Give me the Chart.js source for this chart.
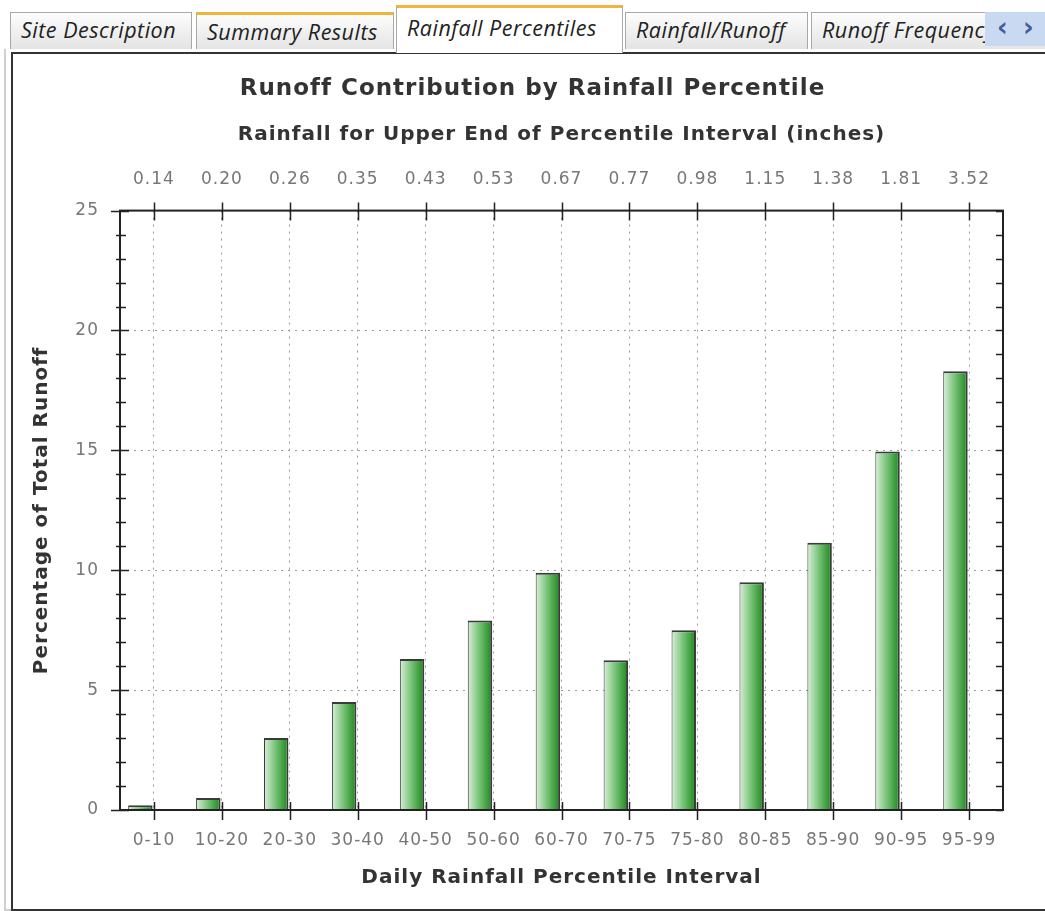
<!DOCTYPE html>
<html>
<head>
<meta charset="utf-8">
<script src="https://cdn.jsdelivr.net/npm/chart.js@4.4.0/dist/chart.umd.min.js"></script>
<style>
  body { margin: 0; width: 1045px; height: 911px; background: #fff; overflow: hidden; position: relative; font-family: "Open Sans", sans-serif; }
  .tab { position: absolute; top: 12px; height: 37px; box-sizing: border-box; border: 1px solid #a8a8a8; border-bottom: none;
         background: linear-gradient(#fdfdfd, #e4e4e4); font-style: italic; font-size: 21.5px; letter-spacing: 0.5px; line-height: 33px; padding-left: 10px;
         color: #222; white-space: nowrap; overflow: hidden; }
  .tab.hot { border-top: 3px solid #f2b53c; }
  .tab.active { top: 5px; height: 48px; background: #fff; border-top: 3px solid #f2b53c; line-height: 40px; z-index: 2; }
  .arrows { position: absolute; left: 985px; top: 12px; width: 60px; height: 34px; background: #c9d9f2; color: #3d5f96; font-size: 26px; font-weight: bold; line-height: 30px; z-index: 3; font-family: "DejaVu Sans", sans-serif; }
  .outer { position: absolute; left: 4px; top: 49px; width: 1100px; height: 860px; border-left: 2px solid #cfcfcf; border-bottom: 2px solid #cfcfcf; }
  .frame { position: absolute; left: 11px; top: 52px; width: 1100px; height: 855px; border: 2px solid #333; border-right: none; }
  #wrap { position: absolute; left: 14px; top: 55px; width: 1031px; height: 852px; }
</style>
</head>
<body>
<div class="tab" style="left:10px;width:182px">Site Description</div>
<div class="tab hot" style="left:196px;width:198px">Summary Results</div>
<div class="tab active" style="left:396px;width:227px">Rainfall Percentiles</div>
<div class="tab" style="left:625px;width:183px">Rainfall/Runoff</div>
<div class="tab" style="left:811px;width:240px">Runoff Frequency</div>
<div class="arrows"><span style="position:absolute;left:12px">&#8249;</span><span style="position:absolute;left:38px">&#8250;</span></div>
<div class="outer"></div>
<div class="frame"></div>
<div id="wrap"><canvas id="myChart" width="1031" height="852"></canvas></div>
<script>
// data
const percentileIntervals = ['0-10', '10-20', '20-30', '30-40', '40-50', '50-60', '60-70', '70-75', '75-80', '80-85', '85-90', '90-95', '95-99'];
const rainfallUpper = ['0.14', '0.20', '0.26', '0.35', '0.43', '0.53', '0.67', '0.77', '0.98', '1.15', '1.38', '1.81', '3.52'];
const runoffPercent = [0.2, 0.5, 3.0, 4.5, 6.3, 7.9, 9.9, 6.25, 7.5, 9.5, 11.15, 14.95, 18.3];
const yMax = 25;
const yStep = 5;

const fontFam = '"DejaVu Sans", sans-serif';

// horizontal light->dark green fill for each bar
function barFill(c) {
    let chart = c.chart
    let xs = chart.scales.x
    if (!xs || c.dataIndex === undefined || !xs.width) return '#5aaa5a'
    let cx = xs.getPixelForValue(c.dataIndex)
    let slot = xs.width / percentileIntervals.length * 0.4
    let g = chart.ctx.createLinearGradient(cx - slot, 0, cx, 0)
    g.addColorStop(0, '#e6f4e6')
    g.addColorStop(0.45, '#7cc57c')
    g.addColorStop(1, '#118011')
    return g
}

// the original text is drawn a bit wider than ours
const wideText = {
    id: 'wideText',
    beforeDraw(chart) {
        chart.ctx.letterSpacing = '1px'
    }
}

// solid frame + tick marks crossing the axes
const axisFrame = {
    id: 'axisFrame',
    afterDatasetsDraw(chart) {
        let { ctx, chartArea: a, scales } = chart
        ctx.save()
        ctx.strokeStyle = '#222'
        ctx.lineWidth = 2
        ctx.strokeRect(a.left, a.top, a.right - a.left, a.bottom - a.top)
        ctx.lineWidth = 1.5
        ctx.beginPath()
        for (let v = 0; v <= yMax; v++) {
            let y = Math.round(scales.y.getPixelForValue(v)) + 0.5
            if (v % yStep === 0) {
                ctx.moveTo(a.left - 9, y); ctx.lineTo(a.left + 9, y)
            } else {
                ctx.moveTo(a.left - 4, y); ctx.lineTo(a.left + 6, y)
            }
            ctx.moveTo(a.right - 7, y); ctx.lineTo(a.right, y)
        }
        percentileIntervals.forEach((lab, i) => {
            let x = Math.round(scales.x.getPixelForValue(i)) + 0.5
            ctx.moveTo(x, a.bottom - 8); ctx.lineTo(x, a.bottom + 10)
            ctx.moveTo(x, a.top - 8); ctx.lineTo(x, a.top + 10)
        })
        ctx.stroke()
        ctx.restore()
    }
}

const ctx = document.getElementById('myChart');

new Chart(ctx, {
    type: 'bar',
    data: {
        labels: percentileIntervals,
        datasets: [
            {
                label: 'Runoff',
                data: runoffPercent,
                xAxisID: 'x',
                backgroundColor: barFill,
                borderColor: '#3a3a3a',
                borderWidth: { top: 2, right: 2, left: 1, bottom: 0 },
                categoryPercentage: 0.8,
                barPercentage: 0.9
            },
            {
                label: 'spacer',
                data: [],
                xAxisID: 'x',
                categoryPercentage: 0.8,
                barPercentage: 0.9
            }
        ]
    },
    options: {
        responsive: false,
        animation: false,
        devicePixelRatio: 1,
        layout: { padding: { left: 48, right: 42, top: 0, bottom: 17 } },
        plugins: {
            legend: { display: false },
            tooltip: { enabled: false },
            title: {
                display: true,
                text: 'Runoff Contribution by Rainfall Percentile',
                color: '#333',
                font: { family: fontFam, size: 23, weight: 'bold' },
                padding: { top: 20, bottom: 9 }
            }
        },
        scales: {
            x: {
                position: 'bottom',
                grid: { display: true, offset: false, drawTicks: false, color: '#9a9a9a', lineWidth: 1 },
                border: { display: false, dash: [2, 5] },
                ticks: { color: '#777', padding: 20, maxRotation: 0, autoSkip: false, font: { family: fontFam, size: 17 } },
                title: {
                    display: true,
                    text: 'Daily Rainfall Percentile Interval',
                    color: '#333',
                    font: { family: fontFam, size: 20, weight: 'bold' },
                    padding: { top: 0, bottom: 0 }
                },
                afterFit: (s) => { s.height = 80 }
            },
            x2: {
                type: 'category',
                position: 'top',
                labels: rainfallUpper,
                offset: true,
                grid: { display: false, drawTicks: false },
                border: { display: false },
                ticks: { color: '#777', padding: 21, maxRotation: 0, autoSkip: false, font: { family: fontFam, size: 17 } },
                title: {
                    display: true,
                    text: 'Rainfall for Upper End of Percentile Interval (inches)',
                    color: '#333',
                    font: { family: fontFam, size: 20, weight: 'bold' },
                    padding: { top: 11, bottom: 0 }
                },
                afterFit: (s) => { s.height = 99 }
            },
            y: {
                min: 0,
                max: yMax,
                grid: { drawTicks: false, color: '#9a9a9a', lineWidth: 1 },
                border: { display: false, dash: [2, 5] },
                ticks: { stepSize: yStep, color: '#777', padding: 21, font: { family: fontFam, size: 17 } },
                title: {
                    display: true,
                    text: 'Percentage of Total Runoff',
                    color: '#333',
                    font: { family: fontFam, size: 20, weight: 'bold' },
                    padding: { top: -32, bottom: 0 }
                },
                afterFit: (s) => { s.width = 58 }
            }
        }
    },
    plugins: [wideText, axisFrame]
});
</script>
</body>
</html>
